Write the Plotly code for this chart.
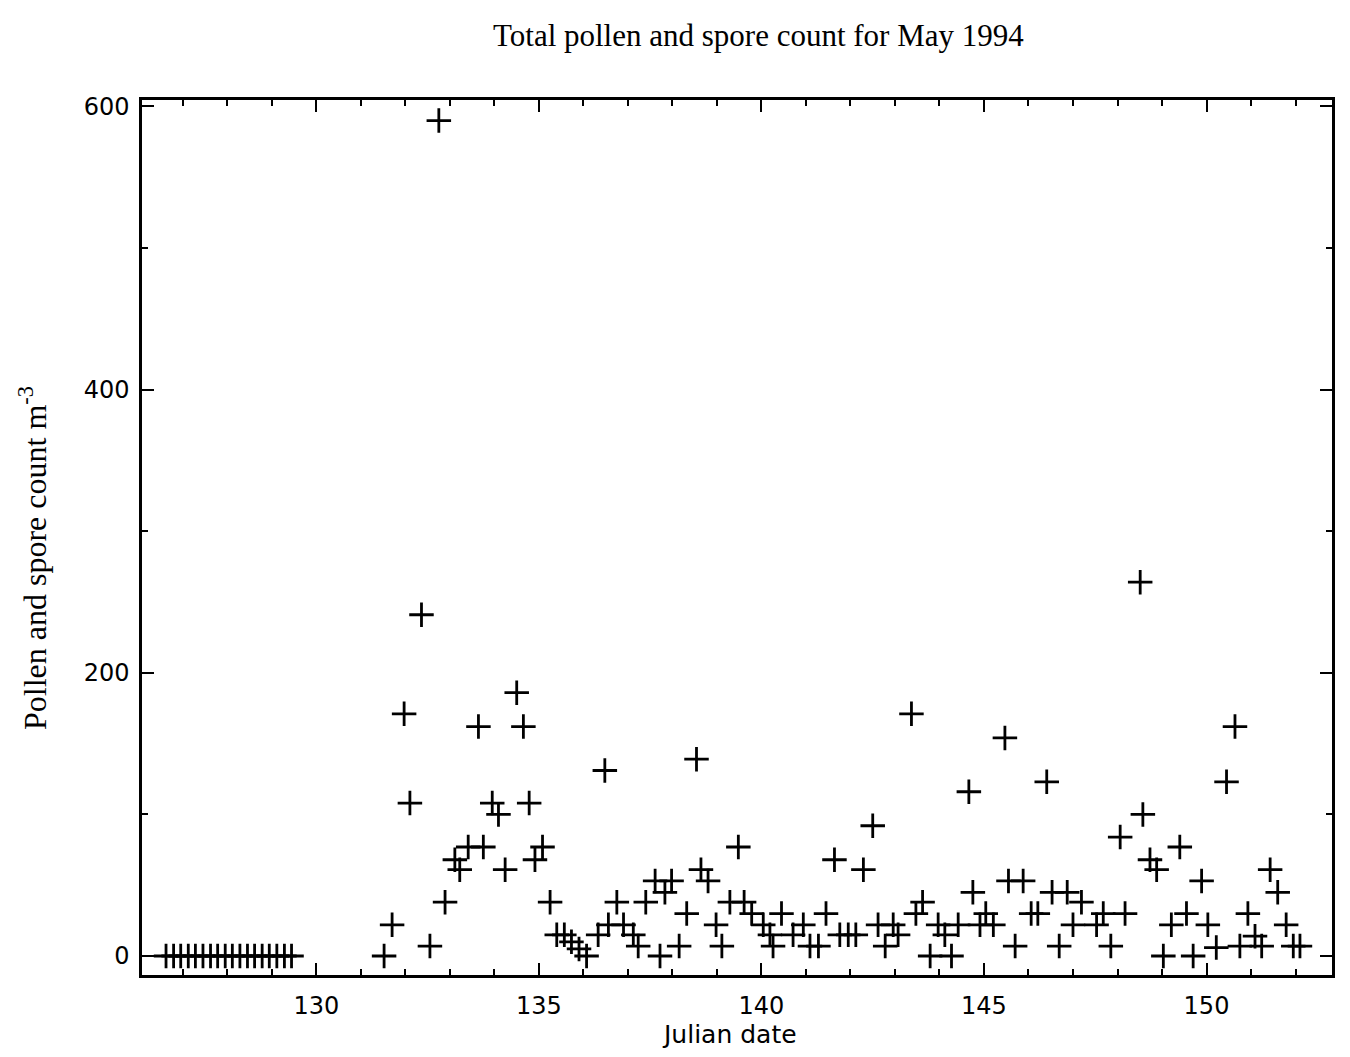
import plotly.graph_objects as go

# Julian day of each sample and the total pollen + spore count (grains per m^3)
zero_days = [126.62, 126.79, 126.95, 127.12, 127.28, 127.45, 127.62, 127.78, 127.95,
             128.11, 128.28, 128.45, 128.61, 128.78, 128.94, 129.11, 129.28, 129.44]
zero_counts = [0] * len(zero_days)

days = [131.52, 131.70, 131.97, 132.10, 132.36, 132.55, 132.75, 132.89, 133.11, 133.22,
        133.41, 133.64, 133.75, 133.95, 134.09, 134.24, 134.50, 134.65, 134.78, 134.91,
        135.08, 135.25, 135.40, 135.57, 135.73, 135.90, 136.07, 136.33, 136.48, 136.56,
        136.75, 136.90, 137.12, 137.23, 137.40, 137.61, 137.72, 137.83, 137.98, 138.15,
        138.32, 138.54, 138.64, 138.80, 138.98, 139.11, 139.29, 139.48, 139.61, 139.78,
        140.04, 140.19, 140.26, 140.45, 140.71, 140.94, 141.09, 141.28, 141.45, 141.64,
        141.76, 141.95, 142.12, 142.29, 142.50, 142.62, 142.78, 142.96, 143.07, 143.37,
        143.47, 143.62, 143.79, 143.97, 144.12, 144.27, 144.42, 144.66, 144.75, 144.91,
        145.04, 145.21, 145.47, 145.55, 145.70, 145.88, 146.06, 146.21, 146.41, 146.53,
        146.69, 146.87, 147.00, 147.19, 147.53, 147.68, 147.85, 148.06, 148.17, 148.51,
        148.57, 148.73, 148.88, 149.03, 149.21, 149.40, 149.55, 149.70, 149.89, 150.03,
        150.22, 150.45, 150.64, 150.75, 150.93, 151.09, 151.24, 151.43, 151.60, 151.79,
        151.95, 152.10]
counts = [0, 22, 171, 108, 241, 7, 590, 38, 68, 61,
          77, 162, 77, 108, 100, 61, 186, 162, 108, 68,
          77, 38, 15, 15, 10, 5, 0, 15, 131, 22,
          38, 22, 15, 7, 38, 53, 0, 45, 53, 7,
          30, 139, 61, 53, 22, 7, 38, 77, 38, 30,
          22, 15, 7, 30, 15, 22, 7, 7, 30, 68,
          15, 15, 15, 61, 92, 22, 7, 22, 15, 171,
          30, 38, 0, 22, 15, 0, 22, 116, 45, 22,
          30, 22, 154, 53, 7, 53, 30, 30, 123, 45,
          7, 45, 22, 38, 22, 30, 7, 84, 30, 264,
          100, 68, 61, 0, 22, 77, 30, 0, 53, 22,
          6, 123, 162, 7, 30, 14, 7, 61, 45, 22,
          7, 7]

x_ticks = [130, 135, 140, 145, 150]
y_ticks = [0, 200, 400, 600]

W, H = 1350, 1057
ML, MR, MT, MB = 142, 18, 100, 82
PW = W - ML - MR
PH = H - MT - MB

serif = "Liberation Serif, Times New Roman, serif"
sans = "DejaVu Sans, Liberation Sans, sans-serif"

marker = dict(symbol="cross-thin", size=17.5, color="black",
              line=dict(color="black", width=2.8))

fig = go.Figure()
fig.add_trace(go.Scatter(x=zero_days, y=zero_counts, mode="markers",
                         marker=marker, showlegend=False))
fig.add_trace(go.Scatter(x=days, y=counts, mode="markers",
                         marker=marker, showlegend=False))

axis_common = dict(
    showgrid=False, zeroline=False, showline=True, linecolor="black", linewidth=2.5,
    mirror="ticks", ticks="inside", tickcolor="black", tickwidth=2, ticklen=12,
    tickfont=dict(family=sans, size=24, color="black"),
)

fig.update_xaxes(
    range=[126.08, 152.82], tickvals=x_ticks, ticktext=[str(v) for v in x_ticks],
    minor=dict(dtick=1, tick0=130, ticks="inside", ticklen=6, tickwidth=2, tickcolor="black"),
    ticklabelstandoff=7,
    **axis_common,
)
fig.update_yaxes(
    range=[-13.4, 604.5], tickvals=y_ticks, ticktext=[str(v) for v in y_ticks],
    minor=dict(dtick=100, tick0=0, ticks="inside", ticklen=6, tickwidth=2, tickcolor="black"),
    ticklabelstandoff=5,
    **axis_common,
)

def px_to_paper_x(px):
    return (px - ML) / PW

def px_to_paper_y(py):
    return 1 - (py - MT) / PH

fig.update_layout(
    width=W, height=H,
    margin=dict(l=ML, r=MR, t=MT, b=MB, pad=0),
    paper_bgcolor="white", plot_bgcolor="white",
    annotations=[
        dict(text="Total pollen and spore count for May 1994", xref="paper", yref="paper",
             x=px_to_paper_x(758), y=px_to_paper_y(36), xanchor="center", yanchor="middle",
             showarrow=False, font=dict(family=serif, size=31, color="black")),
        dict(text="Pollen and spore count m<sup>-3</sup>", xref="paper", yref="paper",
             x=px_to_paper_x(33), y=px_to_paper_y(558), xanchor="center", yanchor="middle",
             textangle=-90, showarrow=False, font=dict(family=serif, size=32, color="black")),
        dict(text="Julian date", xref="paper", yref="paper",
             x=px_to_paper_x(729), y=px_to_paper_y(1034), xanchor="center", yanchor="middle",
             showarrow=False, font=dict(family=sans, size=25, color="black")),
    ],
)

fig.write_html("out.html")
